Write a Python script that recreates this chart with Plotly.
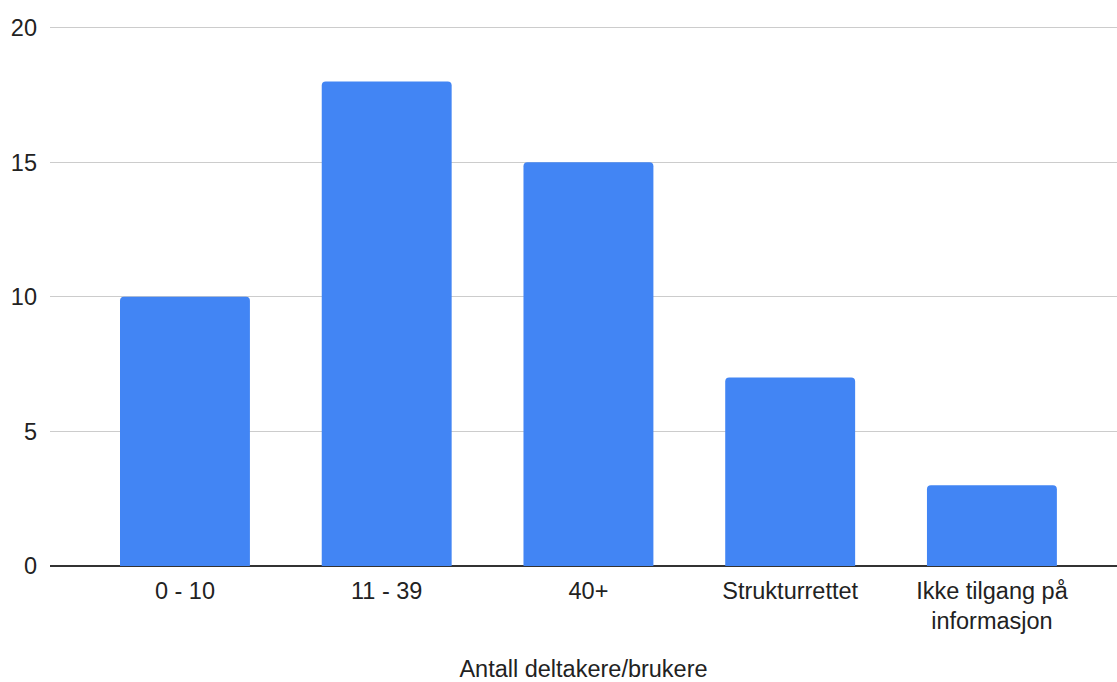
import plotly.graph_objects as go

# Antall deltakere/brukere per kategori
categories = ["0 - 10", "11 - 39", "40+", "Strukturrettet", "Ikke tilgang på<br>informasjon"]
counts = [10, 18, 15, 7, 3]
y_ticks = [0, 5, 10, 15, 20]

FONT = "Liberation Sans, Arial, Helvetica, sans-serif"
FS = 23.5

fig = go.Figure(
    go.Bar(
        x=list(range(len(categories))),
        y=counts,
        marker=dict(color="#4285F4", line=dict(width=0), cornerradius=4),
        hoverinfo="y",
    )
)

fig.update_layout(
    width=1117,
    height=682,
    margin=dict(l=50, r=0, t=25, b=116),
    paper_bgcolor="white",
    plot_bgcolor="white",
    bargap=0.356,
    showlegend=False,
    font=dict(family=FONT, size=FS, color="#222222"),
)

fig.update_xaxes(
    range=[-0.669, 4.62],
    tickmode="array",
    tickvals=list(range(len(categories))),
    ticktext=categories,
    showgrid=False,
    zeroline=False,
    showline=False,
    ticks="",
    automargin=False,
    ticklabelstandoff=8,
    tickfont=dict(size=FS, color="#222222"),
    title=dict(text="Antall deltakere/brukere", font=dict(size=FS, color="#222222"), standoff=40),
)

fig.update_yaxes(
    range=[0, 20.1],
    tickmode="array",
    tickvals=y_ticks,
    showgrid=True,
    gridcolor="#cccccc",
    gridwidth=1,
    zeroline=True,
    zerolinecolor="#333333",
    zerolinewidth=1.5,
    showline=False,
    ticks="",
    automargin=False,
    ticklabelstandoff=12,
    tickfont=dict(size=FS, color="#222222"),
)

fig.write_html("out.html")
